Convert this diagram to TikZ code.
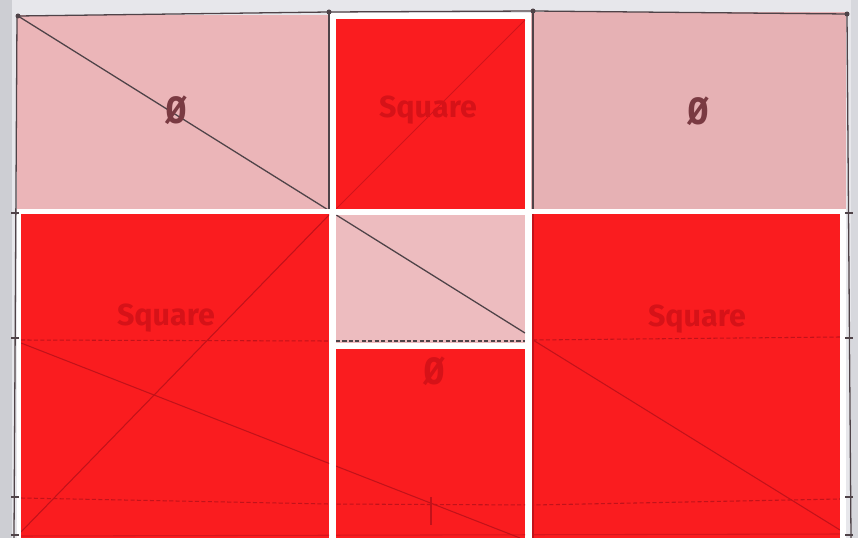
\documentclass[tikz,border=0pt]{standalone}
\usepackage{fontspec}
\usepackage{xcolor}
\usepackage{tikz}
\newfontfamily\handfont{Fira Sans}
\newfontfamily\zerofont{DejaVu Sans Mono}
\definecolor{paper}{HTML}{E7E7EB}
\definecolor{paperedge}{HTML}{CDCED3}
\definecolor{pinkfill}{HTML}{EBB5B8}
\definecolor{redfill}{HTML}{FA1C1F}
\definecolor{pencilgray}{HTML}{4F4348}
\definecolor{darkred}{HTML}{C2121A}
\definecolor{sqred}{HTML}{D61218}
\definecolor{zerobrown}{HTML}{7A3A42}
\tikzset{
    pencil/.style={line width=1.1pt,pencilgray},
    redpencil/.style={line width=0.9pt,darkred},
    pencildash/.style={pencil,dash pattern=on 3.5pt off 2pt},
    reddash/.style={redpencil,dash pattern=on 3.5pt off 2pt},
    sqlabel/.style={font=\handfont\bfseries\fontsize{26}{26}\selectfont,text=sqred,inner sep=0pt,anchor=base},
    zerolabel/.style={font=\zerofont\bfseries\fontsize{31}{31}\selectfont,inner sep=0pt,anchor=base}
}

\begin{document}
\begin{tikzpicture}[x=0.03cm,y=-0.03cm]
    \useasboundingbox (0,0) rectangle (858,538);
    \fill[paper] (0,0) rectangle (858,538);
    \fill[paperedge] (0,0) rectangle (12,538);
    \fill[paperedge!60!paper] (851,0) rectangle (858,538);

    \fill[pinkfill] (17,15) rectangle (330,212);
    \fill[pinkfill!98!black] (531,12) rectangle (846,212);
    \fill[white] (17,209) rectangle (846,538);
    \fill[white] (330,13) rectangle (531,212);

    \fill[redfill] (336,19) rectangle (525,209);
    \fill[redfill] (21,214) rectangle (329,538);
    \fill[pinkfill!90!white] (336,215) rectangle (525,343);
    \fill[redfill] (336,349) rectangle (525,538);
    \fill[redfill] (532,214) rectangle (840,538);

    \draw[pencil] (18,16) -- (329,12) -- (533,11) -- (847,14);
    \draw[pencil] (17,16) -- (14,538);
    \draw[pencil] (847,14) -- (851,538);
    \draw[pencil] (329,12) -- (329,209);
    \draw[pencil] (533,11) -- (533,209);
    \foreach \y in {213,338,497,535} {
        \draw[pencil] (11,\y) -- (19,\y);
        \draw[pencil] (845,\y) -- (853,\y);
    }
    \fill[pencilgray] (18,16) circle (2.5) (329,12) circle (2.5) (533,11) circle (2.5) (847,14) circle (2.5);

    \begin{scope}
        \clip (17,15) rectangle (329,209) (336,215) rectangle (525,343);
        \draw[pencil] (18,16) -- (525,333);
        \draw[pencildash] (336,341) -- (525,341);
    \end{scope}

    \begin{scope}
        \clip (336,19) rectangle (525,209) (21,214) rectangle (329,538)
            (336,349) rectangle (525,538) (532,214) rectangle (840,538);
        \draw[redpencil,opacity=0.7] (336,209) -- (525,20);
        \draw[redpencil] (21,532) -- (330,214);
        \draw[redpencil] (21,343) -- (520,538);
        \draw[redpencil] (533,340) -- (840,530);
        \draw[reddash] (21,340) -- (329,341);
        \draw[reddash] (533,340) -- (840,337);
        \draw[reddash] (21,498) -- (329,504) -- (533,505) -- (840,499);
        \draw[redpencil] (431,497) -- (431,525);
        \draw[redpencil] (533,214) -- (533,538);
        \draw[redpencil,opacity=0.6] (21,536) -- (840,534);
    \end{scope}

    \node[zerolabel,text=zerobrown] (nullTL) at (176,124) {Ø};
    \node[zerolabel,text=zerobrown] (nullTR) at (698,125) {Ø};
    \node[zerolabel,text=sqred] (nullMid) at (434,384) {Ø};
    \node[sqlabel] (sqTop) at (428,118) {Square};
    \node[sqlabel] (sqLeft) at (166,325) {Square};
    \node[sqlabel] (sqRight) at (697,326) {Square};
\end{tikzpicture}
\end{document}
